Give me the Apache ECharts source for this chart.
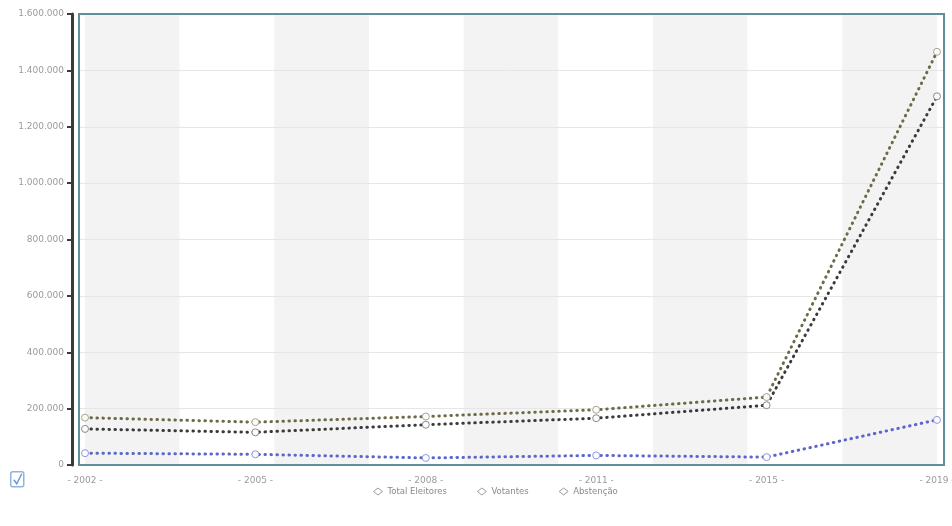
<!DOCTYPE html>
<html>
<head>
<meta charset="utf-8">
<script src="https://cdn.jsdelivr.net/npm/echarts@6/dist/echarts.min.js"></script>
<style>
  html, body { margin: 0; padding: 0; background: #fff; }
  #chart { width: 952px; height: 526px; }
</style>
</head>
<body>
<div id="chart"></div>
<script>
// Election turnout by year
const years = ['2002', '2005', '2008', '2011', '2015', '2019'];
const totalEleitores = [168000, 152000, 172000, 196000, 241000, 1466000];
const votantes = [42000, 38000, 25000, 34000, 28000, 160000];
const abstencao = [128000, 116000, 143000, 166000, 212000, 1308000];
const seriesNames = ['Total Eleitores', 'Votantes', 'Abstenção'];
const yMax = 1600000;
const yStep = 200000;

const fmtThousands = v => String(v).replace(/\B(?=(\d{3})+(?!\d))/g, '.');

const chart = echarts.init(document.getElementById('chart'));

const dotted = color => ({ color: color, width: 3, type: [0.5, 5.5], cap: 'round' });

function lineSeries(name, data, color, symbolBorder) {
  return {
    name: name,
    type: 'line',
    xAxisIndex: 2,
    yAxisIndex: 1,
    symbol: 'circle',
    symbolSize: 7,
    itemStyle: { color: color },
    lineStyle: dotted(color),
    // hollow markers with a thin, light outline
    data: data.map(v => ({
      value: v,
      itemStyle: { color: '#fbfbfb', borderColor: symbolBorder, borderWidth: 1 }
    })),
    emphasis: { disabled: true },
    z: 5
  };
}

const labelStyle = { color: '#9a9a9a', fontSize: 9, fontFamily: 'DejaVu Sans' };
const hiddenAxis = {
  axisLine: { show: false }, axisTick: { show: false }, axisLabel: { show: false },
  splitLine: { show: false }
};

chart.setOption({
  animation: false,
  grid: [
    // 0: frame with value gridlines
    {
      left: 79, right: 8, top: 14, bottom: 61,
      outerBoundsMode: 'none',
      show: true, borderColor: '#5f8e9c', borderWidth: 2, backgroundColor: 'transparent',
      z: 3
    },
    // 1: plotting area, inset slightly from the frame
    { left: 85, right: 15, top: 14, bottom: 61, outerBoundsMode: 'none' },
    // 2: standalone value axis to the left of the frame
    { left: 72, right: 8, top: 14, bottom: 61, outerBoundsMode: 'none' }
  ],
  legend: {
    bottom: 25,
    left: 368,
    icon: 'diamond',
    itemWidth: 9,
    itemHeight: 7,
    itemGap: 30,
    itemStyle: { color: '#ffffff', borderColor: '#9a9a9a', borderWidth: 1 },
    textStyle: { color: '#8a8a8a', fontSize: 8.5, fontFamily: 'DejaVu Sans' },
    data: seriesNames
  },
  xAxis: [
    Object.assign({ gridIndex: 0, type: 'value', min: 0, max: 1 }, hiddenAxis),
    // background stripes across the plotting area
    Object.assign({
      gridIndex: 1, type: 'value', min: 0, max: 9, interval: 1, z: -1, position: 'top',
      splitArea: { show: true, areaStyle: { color: ['#f3f3f3', '#ffffff'] } }
    }, hiddenAxis),
    {
      gridIndex: 1,
      type: 'category',
      position: 'bottom',
      data: years,
      boundaryGap: false,
      axisLine: { show: false },
      axisTick: { show: false },
      axisLabel: Object.assign({ margin: 11, formatter: v => '- ' + v + ' -' }, labelStyle),
      splitLine: { show: false }
    },
    Object.assign({ gridIndex: 2, type: 'value', min: 0, max: 1 }, hiddenAxis)
  ],
  yAxis: [
    // gridlines inside the frame
    Object.assign({
      gridIndex: 0, type: 'value', min: 0, max: yMax, interval: yStep, z: 1
    }, hiddenAxis, { splitLine: { show: true, lineStyle: { color: '#e6e6e6', width: 1 } } }),
    { gridIndex: 1, type: 'value', min: 0, max: yMax, interval: yStep, show: false },
    // visible value axis
    {
      gridIndex: 2,
      type: 'value',
      min: 0, max: yMax, interval: yStep,
      axisLine: { show: true, lineStyle: { color: '#3a3a3a', width: 3 } },
      axisTick: { show: true, length: 5, lineStyle: { color: '#3a3a3a', width: 2 } },
      axisLabel: Object.assign({ margin: 8, formatter: fmtThousands }, labelStyle),
      splitLine: { show: false }
    }
  ],
  series: [
    lineSeries(seriesNames[0], totalEleitores, '#6e6a45', '#a8a68c'),
    lineSeries(seriesNames[1], votantes, '#5a66cc', '#8e98dc'),
    lineSeries(seriesNames[2], abstencao, '#3a3a3a', '#8a8a8a')
  ],
  graphic: [
    {
      type: 'group', left: 10, top: 471,
      children: [
        { type: 'rect', shape: { x: 0, y: 0, width: 13, height: 15, r: 2 },
          style: { fill: '#fff', stroke: '#8fb4e0', lineWidth: 1.5 } },
        { type: 'polyline', shape: { points: [[3, 8], [6, 12], [11, 2]] },
          style: { stroke: '#6a98d8', lineWidth: 1.5, fill: null } }
      ]
    }
  ]
});
</script>
</body>
</html>
